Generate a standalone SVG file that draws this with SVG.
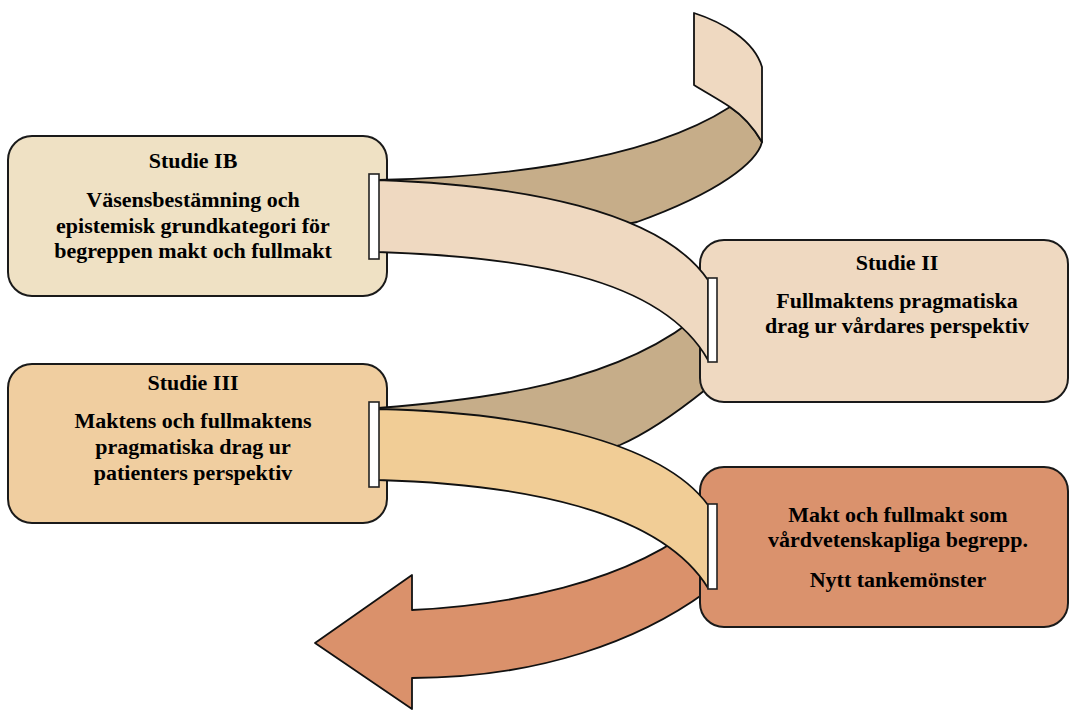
<svg xmlns="http://www.w3.org/2000/svg" width="1071" height="710" viewBox="0 0 1071 710">
<style>
.box{stroke:#1a1a1a;stroke-width:2}
.rib{stroke:#111;stroke-width:1.8;stroke-linejoin:round}
.br{fill:#fff;stroke:#222;stroke-width:1.6}
text{font-family:"Liberation Serif","Times New Roman",serif;font-weight:bold;font-size:22px;fill:#000;text-anchor:middle}
</style>
<rect width="1071" height="710" fill="#fff"/>
<g id="node-studie-ib">
<rect class="box" x="8" y="136" width="379" height="160" rx="24" fill="#EFE1C4"/>
<text x="193" y="168">Studie IB</text>
<text x="193" y="207">Väsensbestämning och</text>
<text x="193" y="233">epistemisk grundkategori för</text>
<text x="193" y="258">begreppen makt och fullmakt</text>
</g>
<g id="node-studie-iii">
<rect class="box" x="8" y="364" width="379" height="159" rx="24" fill="#F0CEA0"/>
<text x="193" y="390">Studie III</text>
<text x="193" y="428">Maktens och fullmaktens</text>
<text x="193" y="454">pragmatiska drag ur</text>
<text x="193" y="480">patienters perspektiv</text>
</g>
<g id="connectors-back">
<path class="rib" fill="#C6AD89" d="M378,180 C480,178 640,165 730,107 C742,115 752,125 762,142 C757,162 720,192 637,222 C560,240 450,200 378,182 Z"/>
<path class="rib" fill="#EFD9C1" d="M694,13 C722,22 754,40 762,67 L762,142 C752,125 742,115 730,107 C718,99 705,92 694,85 Z"/>
<path class="rib" fill="#C6AD89" d="M378,408 C480,400 620,385 705,310 L705,390 C680,410 650,432 620,445 C540,470 440,420 378,410 Z"/>
<path class="rib" fill="#DA916B" d="M412,610 C500,606 630,585 706,518 L706,592 C640,640 540,678 412,678 L412,709 L315,643 L412,575 Z"/>
</g>
<g id="node-studie-ii">
<rect class="box" x="700" y="240" width="368" height="162" rx="24" fill="#EFD9C1"/>
<text x="897" y="270">Studie II</text>
<text x="897" y="308">Fullmaktens pragmatiska</text>
<text x="897" y="333">drag ur vårdares perspektiv</text>
</g>
<g id="node-nytt-tankemonster">
<rect class="box" x="700" y="467" width="368" height="160" rx="24" fill="#DA926D"/>
<text x="898" y="522">Makt och fullmakt som</text>
<text x="898" y="547">vårdvetenskapliga begrepp.</text>
<text x="898" y="587">Nytt tankemönster</text>
</g>
<g id="connectors-front">
<path class="rib" fill="#EFD9C1" d="M378,180 C520,185 660,210 708,280 L708,360 C660,275 520,257 378,252 Z"/>
<path class="rib" fill="#F1CD96" d="M378,409 C520,412 660,440 708,505 L708,588 C660,510 520,484 378,480 Z"/>
<rect class="br" x="369" y="174" width="10" height="85"/>
<rect class="br" x="369" y="402" width="10" height="85"/>
<rect class="br" x="708" y="278" width="9" height="84"/>
<rect class="br" x="708" y="504" width="9" height="85"/>
</g>
</svg>
